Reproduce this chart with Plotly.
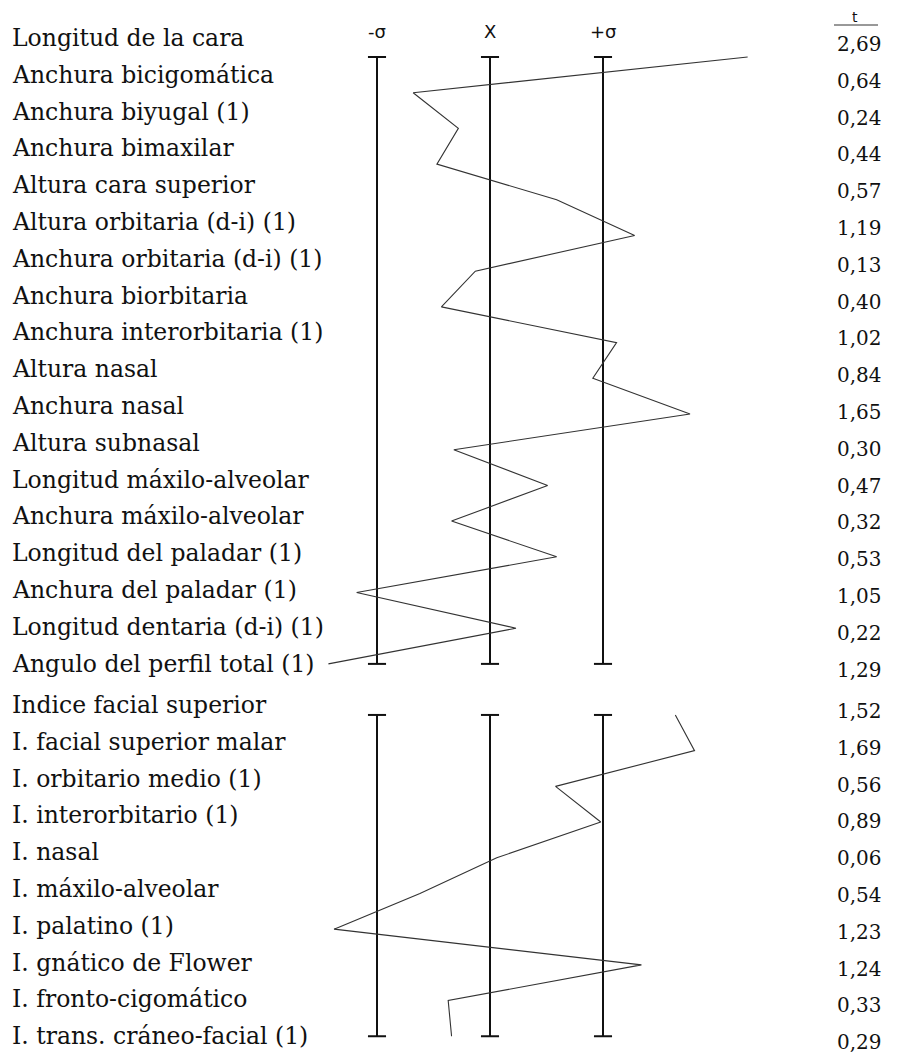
import plotly.graph_objects as go

# ---------------- data ----------------
labels_1 = [
    "Longitud de la cara", "Anchura bicigomática", "Anchura biyugal (1)",
    "Anchura bimaxilar", "Altura cara superior", "Altura orbitaria (d-i) (1)",
    "Anchura orbitaria (d-i) (1)", "Anchura biorbitaria", "Anchura interorbitaria (1)",
    "Altura nasal", "Anchura nasal", "Altura subnasal", "Longitud máxilo-alveolar",
    "Anchura máxilo-alveolar", "Longitud del paladar (1)", "Anchura del paladar (1)",
    "Longitud dentaria (d-i) (1)", "Angulo del perfil total (1)",
]
t_1 = ["2,69", "0,64", "0,24", "0,44", "0,57", "1,19", "0,13", "0,40", "1,02",
       "0,84", "1,65", "0,30", "0,47", "0,32", "0,53", "1,05", "0,22", "1,29"]
dev_1 = [2.28, -0.68, -0.28, -0.47, 0.59, 1.28, -0.13, -0.43, 1.12,
         0.91, 1.77, -0.32, 0.51, -0.34, 0.59, -1.18, 0.23, -1.43]

labels_2 = [
    "Indice facial superior", "I. facial superior malar", "I. orbitario medio (1)",
    "I. interorbitario (1)", "I. nasal", "I. máxilo-alveolar", "I. palatino (1)",
    "I. gnático de Flower", "I. fronto-cigomático", "I. trans. cráneo-facial (1)",
]
t_2 = ["1,52", "1,69", "0,56", "0,89", "0,06", "0,54", "1,23", "1,24", "0,33", "0,29"]
dev_2 = [1.64, 1.81, 0.58, 0.98, 0.06, -0.62, -1.38, 1.34, -0.37, -0.34]

ref_x = [-1, 0, 1]
ref_names = ["-σ", "X", "+σ"]
t_header = "t"

# ---------------- layout helpers (style) ----------------
# page body has an 8px margin, so the figure is drawn 8px in from the window edge
OFF = 8
W, H = 895, 1045
SEC2_MARK_START = 18.43   # row offset of 2nd block on the mark axis
SEC2_TEXT_START = 18.125  # row offset of 2nd block on the text axis

rows1_m = list(range(len(dev_1)))
rows2_m = [SEC2_MARK_START + j for j in range(len(dev_2))]
rows1_t = list(range(len(labels_1)))
rows2_t = [SEC2_TEXT_START + j for j in range(len(labels_2))]

fig = go.Figure()

line_col = "#111111"
for (r0, r1) in [(rows1_m[0], rows1_m[-1]), (rows2_m[0], rows2_m[-1])]:
    for x in ref_x:
        fig.add_trace(go.Scatter(x=[x, x], y=[r0, r1], mode="lines",
                                 line=dict(color=line_col, width=2),
                                 hoverinfo="skip", showlegend=False))
        for r in (r0, r1):
            fig.add_trace(go.Scatter(x=[x - 0.08, x + 0.08], y=[r, r], mode="lines",
                                     line=dict(color=line_col, width=2),
                                     hoverinfo="skip", showlegend=False))

# profile lines
fig.add_trace(go.Scatter(x=dev_1, y=rows1_m, mode="lines",
                         line=dict(color="#333333", width=1.1),
                         showlegend=False))
fig.add_trace(go.Scatter(x=dev_2, y=rows2_m, mode="lines",
                         line=dict(color="#333333", width=1.1),
                         showlegend=False))

# invisible trace on text axis
fig.add_trace(go.Scatter(x=[0], y=[0], yaxis="y2", mode="markers",
                         marker=dict(opacity=0), hoverinfo="skip", showlegend=False))

ann = []
lab_font = dict(family="DejaVu Serif", size=23.5, color="#111111")
for lab, r in zip(labels_1 + labels_2, rows1_t + rows2_t):
    ann.append(dict(x=(10 - OFF) / W, xref="paper", y=r, yref="y2", text=lab,
                    showarrow=False, xanchor="left", yanchor="middle", font=lab_font))
for tv, r in zip(t_1 + t_2, rows1_t + rows2_t):
    ann.append(dict(x=(859 - OFF) / W, xref="paper", y=r, yref="y2", yshift=-6, text=tv,
                    showarrow=False, xanchor="center", yanchor="middle",
                    font=dict(family="DejaVu Serif", size=20, color="#111111")))
for x, nm in zip(ref_x, ref_names):
    ann.append(dict(x=x, xref="x", y=1 - (31 - OFF) / H, yref="paper", text=nm,
                    showarrow=False, xanchor="center", yanchor="middle",
                    font=dict(family="DejaVu Sans", size=18, color="#111111")))
ann.append(dict(x=(855 - OFF) / W, xref="paper", y=1 - (17 - OFF) / H, yref="paper",
                text=t_header, showarrow=False, xanchor="center", yanchor="middle",
                font=dict(family="DejaVu Sans", size=14, color="#111111")))

shapes = [dict(type="line", xref="paper", yref="paper",
               x0=(834 - OFF) / W, x1=(878 - OFF) / W,
               y0=1 - (25 - OFF) / H, y1=1 - (25 - OFF) / H,
               line=dict(color="#333333", width=1))]

# axis ranges (in window pixels): mark axis p = 57 + 35.7*row ; text axis p = 38 + 36.8*row
ym0, yms = 57.0 - OFF, 35.7
yt0, yts = 38.0 - OFF, 36.8
xc, xs = 490.0 - OFF, 113.0

fig.update_layout(
    width=W, height=H,
    margin=dict(l=0, r=0, t=0, b=0),
    paper_bgcolor="white", plot_bgcolor="white",
    xaxis=dict(range=[(0 - xc) / xs, (W - xc) / xs], visible=False, fixedrange=True),
    yaxis=dict(range=[(H - ym0) / yms, (0 - ym0) / yms], visible=False, fixedrange=True),
    yaxis2=dict(range=[(H - yt0) / yts, (0 - yt0) / yts], visible=False,
                overlaying="y", fixedrange=True),
    annotations=ann, shapes=shapes,
)

fig.write_html("out.html")
